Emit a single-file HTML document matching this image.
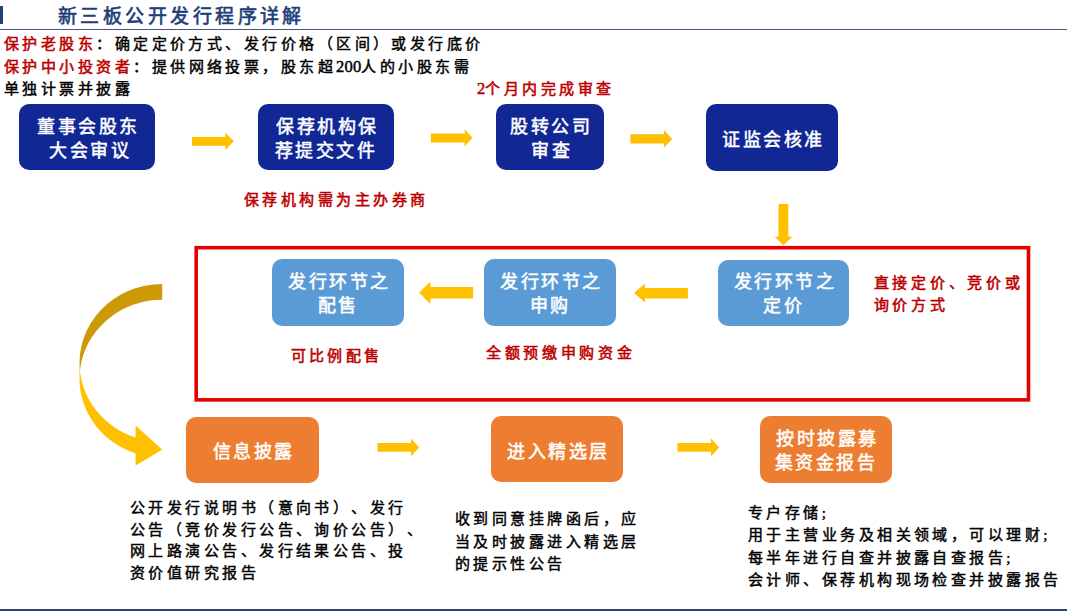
<!DOCTYPE html>
<html lang="zh-CN">
<head>
<meta charset="utf-8">
<style>
*{margin:0;padding:0;box-sizing:border-box}
html,body{width:1067px;height:613px;background:#fff;overflow:hidden}
body{position:relative;font-family:"Liberation Serif",serif;color:#000;text-spacing-trim:space-all}
.a{position:absolute;white-space:nowrap}
.t{position:absolute;white-space:nowrap;font-size:15px;line-height:22px;font-weight:normal;letter-spacing:3.45px;-webkit-text-stroke:0.45px currentColor}
.n{letter-spacing:0.2px;font-size:16.5px}
.red{color:#BC0000;-webkit-text-stroke:0.55px #BC0000}
.box{position:absolute;border-radius:10px}
.bt{position:absolute;white-space:nowrap;color:#fff;font-weight:normal;-webkit-text-stroke:0.5px #fff;font-size:18px;letter-spacing:2.5px;line-height:24.5px;text-align:center;text-indent:2.5px}
.db{background:#112794}
.lb{background:#5B9BD5}
.ob{background:#ED7D31}
</style>
</head>
<body>
<!-- header -->
<div class="a" style="left:0;top:6px;width:2.5px;height:18px;background:#243F7A"></div>
<div class="a" style="left:58px;top:2.5px;font-size:19px;line-height:28px;letter-spacing:3.45px;color:#203D78;-webkit-text-stroke:0.6px #203D78">新三板公开发行程序详解</div>
<div class="a" style="left:0;top:29px;width:1067px;height:1px;background:#4A5482"></div>

<!-- top text -->
<div class="t" style="left:4px;top:34.2px;line-height:21.7px"><span class="red">保护老股东</span>：确定定价方式、发行价格（区间）或发行底价<br><span class="red">保护中小投资者</span>：提供网络投票，股东超<span class="n">200</span>人的小股东需<br>单独计票并披露</div>
<div class="t red" style="left:477px;top:78.2px"><span class="n">2</span>个月内完成审查</div>

<!-- row 1 dark boxes -->
<div class="box db" style="left:19px;top:104px;width:136px;height:66px"></div>
<div class="bt" style="left:19px;top:114.8px;width:136px">董事会股东<br><span style="position:relative;left:3px">大会审议</span></div>
<div class="box db" style="left:258px;top:104px;width:136px;height:66px"></div>
<div class="bt" style="left:258px;top:114.8px;width:136px">保荐机构保<br>荐提交文件</div>
<div class="box db" style="left:496px;top:104px;width:108px;height:66px"></div>
<div class="bt" style="left:496px;top:114.8px;width:108px">股转公司<br><span style="position:relative;left:1.5px">审查</span></div>
<div class="box db" style="left:706px;top:104px;width:132px;height:67px"></div>
<div class="bt" style="left:706px;top:127.8px;width:132px">证监会核准</div>

<div class="t red" style="left:244px;top:189.2px">保荐机构需为主办券商</div>

<!-- red frame -->


<!-- row 2 light boxes -->
<div class="box lb" style="left:272px;top:259px;width:132px;height:67px"></div>
<div class="bt" style="left:272px;top:269.8px;width:132px">发行环节之<br>配售</div>
<div class="box lb" style="left:484px;top:259px;width:132px;height:67px"></div>
<div class="bt" style="left:484px;top:269.8px;width:132px">发行环节之<br>申购</div>
<div class="box lb" style="left:718px;top:260px;width:131px;height:66px"></div>
<div class="bt" style="left:718px;top:269.8px;width:131px">发行环节之<br>定价</div>

<div class="t red" style="left:873.5px;top:273.3px;line-height:21.5px;letter-spacing:3.8px">直接定价、竞价或<br>询价方式</div>
<div class="t red" style="left:291px;top:345.3px;letter-spacing:3.2px">可比例配售</div>
<div class="t red" style="left:486px;top:342px;letter-spacing:3.65px">全额预缴申购资金</div>

<!-- row 3 orange boxes -->
<div class="box ob" style="left:186px;top:417px;width:133px;height:66px"></div>
<div class="bt" style="left:186px;top:439.8px;width:133px">信息披露</div>
<div class="box ob" style="left:491px;top:416px;width:132px;height:66px"></div>
<div class="bt" style="left:491px;top:439.8px;width:132px">进入精选层</div>
<div class="box ob" style="left:760px;top:416px;width:132px;height:67px"></div>
<div class="bt" style="left:760px;top:426.7px;width:132px">按时披露募<br>集资金报告</div>

<!-- bottom paragraphs -->
<div class="t" style="left:130px;top:498.2px;line-height:21.5px">公开发行说明书（意向书）、发行<br>公告（竞价发行公告、询价公告）、<br>网上路演公告、发行结果公告、投<br>资价值研究报告</div>
<div class="t" style="left:455px;top:508.2px;line-height:22.5px">收到同意挂牌函后，应<br>当及时披露进入精选层<br>的提示性公告</div>
<div class="t" style="left:748px;top:502.2px;line-height:22.2px">专户存储;<br>用于主营业务及相关领域，可以理财;<br>每半年进行自查并披露自查报告;<br>会计师、保荐机构现场检查并披露报告</div>

<!-- bottom line -->
<div class="a" style="left:0;top:609px;width:1067px;height:2px;background:#2D4470"></div>

<!-- arrows -->
<svg class="a" style="left:0;top:0" width="1067" height="613" viewBox="0 0 1067 613">
<g fill="#FFC000">
<path d="M192 137 H225.3 V132.5 L233.8 141.3 L225.3 150 V145.7 H192 Z"/>
<path d="M430.8 133.6 H464.6 V129.3 L472.5 137.8 L464.6 146.4 V142.4 H430.8 Z"/>
<path d="M630.4 134.2 H664 V130 L672.2 138.9 L664 147.8 V143.6 H630.4 Z"/>
<path d="M778.5 204 H788.3 V236.7 H792.3 L783.4 245.2 L774.6 236.7 H778.5 Z"/>
<path d="M473.1 287.1 H430.4 V281.5 L419.1 292.7 L430.4 304 V298.4 H473.1 Z"/>
<path d="M687.9 288 H645 V283.6 L634.1 293 L645 302.5 V298.5 H687.9 Z"/>
<path d="M377.5 443 H411 V438.5 L419.2 447.4 L411 456.3 V451.8 H377.5 Z"/>
<path d="M677.5 443 H711 V438.5 L719.2 447.4 L711 456.3 V451.8 H677.5 Z"/>
<path d="M79.5 362.9 A82.7 78.9 0 0 0 135.6 437.61 L135.6 425.46 L162.2 449.7 L135.6 465.56 L135.6 453.41 A82.7 78.9 0 0 1 79.5 378.7 Z"/>
</g>
<rect x="196.2" y="247.7" width="832.3" height="152.15" fill="none" stroke="#E60000" stroke-width="3.6"/>
<path fill="#CC9A06" d="M162.2 299.8 A82.7 78.9 0 0 0 79.91 370.8 A82.7 78.9 0 0 1 162.2 284 Z"/>
</svg>
</body>
</html>
